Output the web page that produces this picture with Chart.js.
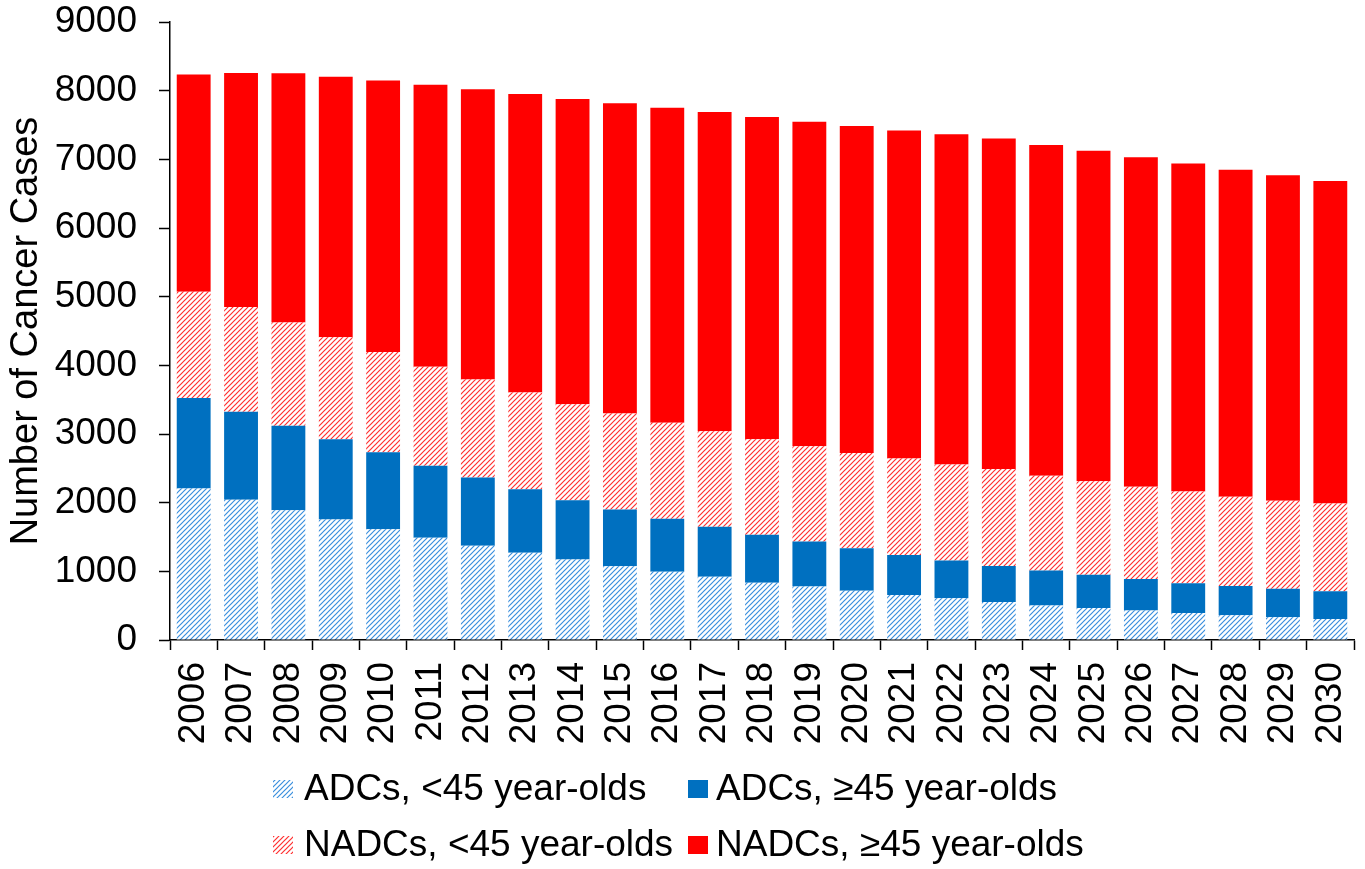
<!DOCTYPE html>
<html>
<head>
<meta charset="utf-8">
<title>Projected cancer cases, 2006–2030</title>
<script src="https://cdn.jsdelivr.net/npm/chart.js@4.4.1/dist/chart.umd.min.js"></script>
<style>
  html, body { margin: 0; padding: 0; background: #ffffff; }
  #wrap { width: 1365px; height: 869px; position: relative; }
</style>
</head>
<body>
<div id="wrap"><canvas id="chart" width="1365" height="869"></canvas></div>
<script>
// Years on the x axis
const years = ['2006','2007','2008','2009','2010','2011','2012','2013','2014','2015',
               '2016','2017','2018','2019','2020','2021','2022','2023','2024','2025',
               '2026','2027','2028','2029','2030'];

// Case counts per group (stacked from bottom to top)
const adcUnder45 = [2207,2042,1888,1754,1613,1490,1373,1269,1171,1073,
                    993,920,834,779,717,656,607,552,503,466,
                    429,392,362,331,307];
const adcOver45  = [1318,1281,1233,1171,1122,1048,994,926,865,828,
                    773,729,699,656,620,583,552,527,509,484,
                    460,436,423,417,404];
const nadcUnder45 = [1545,1527,1502,1483,1459,1441,1428,1410,1397,1398,
                     1398,1392,1392,1385,1385,1404,1398,1410,1379,1361,
                     1343,1336,1300,1281,1276];
const nadcOver45  = [3164,3409,3630,3796,3954,4108,4225,4347,4446,4518,
                     4586,4648,4690,4728,4764,4776,4807,4813,4819,4813,
                     4800,4777,4764,4740,4696];

// Y axis ticks
const yTicks = [0,1000,2000,3000,4000,5000,6000,7000,8000,9000];

const seriesLabels = ['ADCs, <45 year-olds', 'ADCs, \u226545 year-olds',
                      'NADCs, <45 year-olds', 'NADCs, \u226545 year-olds'];

const FONT = '"Liberation Sans", Arial, Helvetica, sans-serif';

const canvas = document.getElementById('chart');
const ctx = canvas.getContext('2d');

// Diagonal hatch fill ("///") on white
function makeHatch(color) {
  const s = 5;
  const tile = document.createElement('canvas');
  tile.width = s; tile.height = s;
  const t = tile.getContext('2d');
  t.fillStyle = '#ffffff';
  t.fillRect(0, 0, s, s);
  t.strokeStyle = color;
  t.lineWidth = 1.2;
  t.beginPath();
  t.moveTo(0, s); t.lineTo(s, 0);
  t.moveTo(-1, 1); t.lineTo(1, -1);
  t.moveTo(s - 1, s + 1); t.lineTo(s + 1, s - 1);
  t.stroke();
  return ctx.createPattern(tile, 'repeat');
}

const blueHatch = makeHatch('#3a8fdd');
const redHatch = makeHatch('#ff3030');
const blueSolid = '#0070c0';
const redSolid = '#ff0000';

// 2x2 legend under the axis
const gridLegend = {
  id: 'gridLegend',
  afterDraw(chart) {
    const c = chart.ctx;
    const cols = [273, 688];
    const rows = [789, 845];
    c.save();
    c.font = '37px ' + FONT;
    c.textBaseline = 'middle';
    c.textAlign = 'left';
    chart.data.datasets.forEach((ds, i) => {
      const x = cols[i % 2];
      const y = rows[Math.floor(i / 2)];
      c.fillStyle = ds.backgroundColor;
      c.fillRect(x, y - 9, 20, 18);
      c.fillStyle = '#000000';
      c.fillText(ds.label, x + 31 - (i % 2) * 3, y + 1);
    });
    c.restore();
  }
};

const barOpts = { barPercentage: 0.715, categoryPercentage: 1.0, borderWidth: 0, stack: 'all' };

new Chart(canvas, {
  type: 'bar',
  data: {
    labels: years,
    datasets: [
      Object.assign({ label: seriesLabels[0], data: adcUnder45, backgroundColor: blueHatch }, barOpts),
      Object.assign({ label: seriesLabels[1], data: adcOver45, backgroundColor: blueSolid }, barOpts),
      Object.assign({ label: seriesLabels[2], data: nadcUnder45, backgroundColor: redHatch }, barOpts),
      Object.assign({ label: seriesLabels[3], data: nadcOver45, backgroundColor: redSolid }, barOpts)
    ]
  },
  options: {
    responsive: false,
    animation: false,
    layout: { padding: { top: 22, right: 11, bottom: 109, left: 0 } },
    plugins: {
      legend: { display: false },
      tooltip: { enabled: false },
      title: { display: false }
    },
    scales: {
      x: {
        stacked: true,
        afterFit(scale) {
          scale.height = 120;
          scale.paddingLeft = 0;
          scale.paddingRight = 0;
        },
        grid: {
          display: true,
          drawOnChartArea: false,
          drawTicks: true,
          tickLength: 10,
          tickWidth: 1.5,
          tickColor: '#000000',
          offset: true
        },
        border: { display: true, color: '#000000', width: 1.5 },
        ticks: {
          autoSkip: false,
          minRotation: 90,
          maxRotation: 90,
          padding: 12,
          color: '#000000',
          font: { family: FONT, size: 37 }
        }
      },
      y: {
        stacked: true,
        min: 0,
        max: 9000,
        afterFit(scale) {
          scale.width = 170;
          scale.paddingTop = 0;
          scale.paddingBottom = 0;
        },
        afterBuildTicks(scale) { scale.ticks = yTicks.map(v => ({ value: v })); },
        grid: {
          display: true,
          drawOnChartArea: false,
          drawTicks: true,
          tickLength: 11,
          tickWidth: 1.5,
          tickColor: '#000000'
        },
        border: { display: true, color: '#000000', width: 1.5 },
        ticks: {
          padding: 22,
          color: '#000000',
          font: { family: FONT, size: 37 },
          callback: (v) => String(v)
        },
        title: {
          display: true,
          text: 'Number of Cancer Cases',
          color: '#000000',
          padding: { top: 4, bottom: 0 },
          font: { family: FONT, size: 38 }
        }
      }
    }
  },
  plugins: [gridLegend]
});
</script>
</body>
</html>
